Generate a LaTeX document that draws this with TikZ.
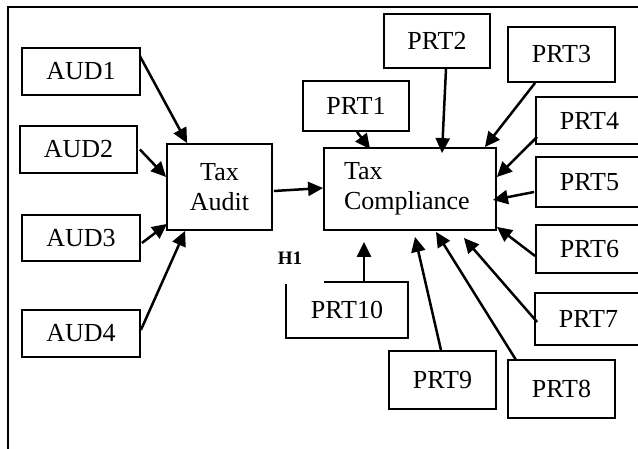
\documentclass[tikz,border=0pt]{standalone}
\usepackage{fontspec}
\setmainfont{Liberation Serif}
\usetikzlibrary{arrows.meta}
\begin{document}
\begin{tikzpicture}[x=1pt,y=1pt,
  box/.style={draw, line width=1.8pt, inner sep=0pt, font=\fontsize{26}{30}\selectfont},
  arr/.style={line width=2.5pt, -{Triangle[length=15pt,width=14pt]}},
  frame/.style={line width=1.8pt}
  ]
\useasboundingbox (0,0) rectangle (638,-449);
\clip (0,0) rectangle (638,-449);
\draw[frame] (8,-449) -- (8,-7) -- (638,-7);
% left inputs
\node[box, minimum width=118pt, minimum height=47pt] (A1) at (81,-71.5) {AUD1};
\node[box, minimum width=117pt, minimum height=47pt] (A2) at (78.5,-149.5) {AUD2};
\node[box, minimum width=118pt, minimum height=46pt] (A3) at (81,-238) {AUD3};
\node[box, minimum width=118pt, minimum height=47pt] (A4) at (81,-333.5) {AUD4};
% centre
\node[box, minimum width=105pt, minimum height=86pt, align=center] (TA) at (219.5,-187) {Tax\\Audit};
\node[box, minimum width=172pt, minimum height=82pt, text width=132pt, align=left] (TC) at (410,-189) {Tax\\Compliance};
% right inputs
\node[box, minimum width=106pt, minimum height=50pt] (P1) at (356,-106) {PRT1};
\node[box, minimum width=106pt, minimum height=54pt] (P2) at (437,-41) {PRT2};
\node[box, minimum width=107pt, minimum height=55pt] (P3) at (561.5,-54.5) {PRT3};
\node[box, minimum width=107pt, minimum height=47pt] (P4) at (589.5,-120.5) {PRT4};
\node[box, minimum width=107pt, minimum height=50pt] (P5) at (589.5,-182) {PRT5};
\node[box, minimum width=107pt, minimum height=48pt] (P6) at (589.5,-249) {PRT6};
\node[box, minimum width=107pt, minimum height=52pt] (P7) at (588.5,-319) {PRT7};
\node[box, minimum width=107pt, minimum height=58pt] (P8) at (561.5,-389) {PRT8};
\node[box, minimum width=107pt, minimum height=58pt] (P9) at (442.5,-380) {PRT9};
\node[box, draw=none, minimum width=120pt, minimum height=54pt] (P10) at (347,-310) {PRT10};
\draw[frame] ([yshift=-2pt]P10.north west) -- (P10.south west) -- (P10.south east) -- (P10.north east) -- ([xshift=38pt]P10.north west);
\node[font=\bfseries\fontsize{19}{22}\selectfont, inner sep=0pt] (H1) at (290,-258) {H1};
% connectors
\draw[arr] ([shift={(-1pt,-9pt)}]A1.north east) -- ([xshift=21pt]TA.north west);
\draw[arr] ([xshift=2pt]A2.east) -- ([yshift=10pt]TA.west);
\draw[arr] ([shift={(1pt,-5pt)}]A3.east) -- ([shift={(1pt,7pt)}]TA.south west);
\draw[arr] ([yshift=3.5pt]A4.east) -- ([xshift=19pt]TA.south west);
\draw[arr] ([shift={(1pt,-4pt)}]TA.east) -- ([yshift=1pt]TC.west);
\draw[arr] ([xshift=1pt]P1.south) -- ([shift={(47pt,-2pt)}]TC.north west);
\draw[arr] ([xshift=9pt]P2.south) -- ([shift={(32pt,-6pt)}]TC.north);
\draw[arr] ([xshift=28pt]P3.south west) -- ([xshift=-12pt]TC.north east);
\draw[arr] ([shift={(2pt,8pt)}]P4.south west) -- ([yshift=12pt]TC.east);
\draw[arr] ([shift={(-1pt,-10pt)}]P5.west) -- ([shift={(-4pt,-11pt)}]TC.east);
\draw[arr] ([yshift=-7pt]P6.west) -- ([yshift=4pt]TC.south east);
\draw[arr] ([shift={(3pt,-3pt)}]P7.west) -- ([shift={(-33pt,-7pt)}]TC.south east);
\draw[arr] ([shift={(9pt,-1pt)}]P8.north west) -- ([shift={(26pt,-1pt)}]TC.south);
\draw[arr] ([xshift=-1.5pt]P9.north) -- ([shift={(5pt,-6pt)}]TC.south);
\draw[arr] ([xshift=17pt]P10.north) -- ([shift={(-46pt,-11pt)}]TC.south);
\end{tikzpicture}
\end{document}
